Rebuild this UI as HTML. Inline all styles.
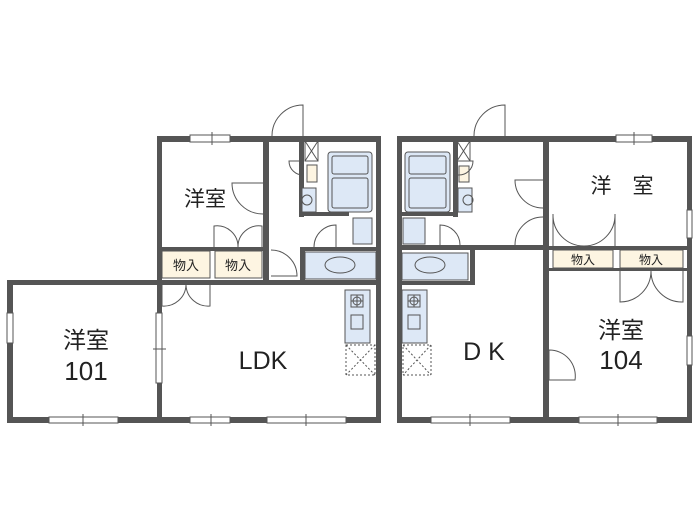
<!DOCTYPE html>
<html><head><meta charset="utf-8"><style>body{margin:0;background:#fff}svg{display:block}</style></head><body>
<svg width="700" height="532" viewBox="0 0 700 532" xmlns="http://www.w3.org/2000/svg" font-family="Liberation Sans, Noto Sans CJK JP, sans-serif">
<g fill="#555">
<rect x="157" y="136" width="224" height="6"/>
<rect x="157" y="136" width="5" height="150"/>
<rect x="376" y="136" width="5" height="287"/>
<rect x="263" y="142" width="6" height="140"/>
<rect x="157" y="247" width="112" height="4"/>
<rect x="7" y="280" width="374" height="5"/>
<rect x="7" y="280" width="6" height="143"/>
<rect x="157" y="280" width="5" height="143"/>
<rect x="7" y="417" width="374" height="6"/>
<rect x="299" y="142" width="5" height="75"/>
<rect x="299" y="212" width="50" height="4"/>
<rect x="300" y="247" width="81" height="4"/>
<rect x="300" y="247" width="5" height="38"/>
<rect x="397" y="136" width="295" height="6"/>
<rect x="397" y="136" width="5" height="287"/>
<rect x="687" y="136" width="5" height="287"/>
<rect x="543" y="142" width="6" height="281"/>
<rect x="397" y="245" width="152" height="5"/>
<rect x="549" y="246" width="143" height="4"/>
<rect x="549" y="268" width="138" height="3"/>
<rect x="397" y="281" width="78" height="4"/>
<rect x="470" y="250" width="5" height="35"/>
<rect x="453" y="142" width="5" height="75"/>
<rect x="400" y="212" width="58" height="4"/>
<rect x="397" y="417" width="295" height="6"/>
</g>
<g fill="#fff" stroke="#555" stroke-width="1">
<rect x="190" y="135" width="40" height="7"/>
<rect x="616" y="135" width="36" height="7"/>
<rect x="49" y="417" width="69" height="6"/>
<rect x="190" y="417" width="40" height="6"/>
<rect x="267" y="417" width="79" height="6"/>
<rect x="431" y="417" width="79" height="6"/>
<rect x="579" y="417" width="78" height="6"/>
<rect x="7" y="313" width="6" height="30"/>
<rect x="156" y="313" width="6" height="70"/>
<rect x="687" y="210" width="5" height="28"/>
<rect x="687" y="336" width="5" height="29"/>
</g>
<g stroke="#555" stroke-width="1">
<line x1="212" y1="132" x2="212" y2="145"/><line x1="634" y1="132" x2="634" y2="145"/>
<line x1="83" y1="414" x2="83" y2="426"/><line x1="211" y1="414" x2="211" y2="426"/><line x1="306" y1="414" x2="306" y2="426"/>
<line x1="470" y1="414" x2="470" y2="426"/><line x1="618" y1="414" x2="618" y2="426"/>
<line x1="153" y1="349" x2="166" y2="349"/>
</g>
<g fill="#fdf5e2" stroke="#555" stroke-width="1">
<rect x="162" y="251" width="48" height="27"/><rect x="215" y="251" width="47" height="27"/>
<rect x="553" y="250" width="60" height="18"/><rect x="620" y="250" width="63" height="18"/>
<rect x="307" y="165" width="10" height="17"/><rect x="459" y="166" width="10" height="16"/>
</g>
<g font-size="13" fill="#222" text-anchor="middle">
<text x="186" y="270">物入</text><text x="238" y="270">物入</text>
<text x="583" y="264" font-size="12">物入</text><text x="651" y="264" font-size="12">物入</text>
</g>
<g fill="#dde8f6" stroke="#555" stroke-width="1">
<rect x="328" y="152" width="44" height="60" rx="3"/><rect x="332" y="156" width="36" height="18" rx="2"/><rect x="332" y="178" width="36" height="30" rx="2"/>
<rect x="305" y="252" width="71" height="27"/><ellipse cx="340" cy="265" rx="15" ry="8"/>
<rect x="353" y="218" width="19" height="26"/>
<rect x="302" y="188" width="14" height="24"/>
<rect x="405" y="152" width="45" height="60" rx="3"/><rect x="409" y="156" width="37" height="18" rx="2"/><rect x="409" y="178" width="37" height="30" rx="2"/>
<rect x="402" y="253" width="66" height="27"/><ellipse cx="430" cy="265" rx="15" ry="8"/>
<rect x="403" y="218" width="22" height="26"/>
<rect x="458" y="188" width="14" height="24"/>
<rect x="345" y="290" width="25" height="53"/><rect x="402" y="290" width="25" height="53"/>
</g>
<g fill="none" stroke="#555" stroke-width="1">
<circle cx="307" cy="200" r="5"/><circle cx="468" cy="200" r="5"/>
<rect x="305" y="141" width="13" height="20"/><path d="M305 141L318 161M318 141L305 161"/>
<rect x="457" y="141" width="13" height="20"/><path d="M457 141L470 161M470 141L457 161"/>
<rect x="351" y="295" width="12" height="12"/><circle cx="357" cy="301" r="4"/><path d="M351 301h12M357 295v12"/>
<rect x="351" y="315" width="12" height="14" fill="#dde8f6"/>
<rect x="408" y="295" width="12" height="12"/><circle cx="414" cy="301" r="4"/><path d="M408 301h12M414 295v12"/>
<rect x="408" y="315" width="12" height="14" fill="#dde8f6"/>
<g stroke-dasharray="2,2"><rect x="346" y="345" width="29" height="30"/><path d="M346 345L375 375M375 345L346 375"/>
<rect x="403" y="345" width="28" height="30"/><path d="M403 345L431 375M431 345L403 375"/></g>
<path d="M303 137V105A31 31 0 0 0 272 137"/>
<path d="M505 137V105A31 31 0 0 0 474 137"/>
<path d="M263 183H232A31 31 0 0 0 263 214"/>
<path d="M214 247V226A21 21 0 0 1 238 247M262 247V226A21 21 0 0 0 238 247"/>
<path d="M162 285V306A22 22 0 0 0 186 285M210 285V306A22 22 0 0 1 186 285"/>
<path d="M271 250A26 26 0 0 1 297 276H271"/>
<path d="M314 247A22 22 0 0 1 336 225V247"/>
<path d="M304 161H289A14 14 0 0 0 304 175"/>
<path d="M458 161H473A14 14 0 0 1 458 175"/>
<path d="M543 180H515A28 28 0 0 0 543 208"/>
<path d="M515 245A28 28 0 0 1 543 217"/>
<path d="M440 245V225A20 20 0 0 1 460 245"/>
<path d="M553 246V214A31 31 0 0 0 584 246M615 246V214A31 31 0 0 1 584 246"/>
<path d="M620 271V302A31 31 0 0 0 651 271M683 271V302A31 31 0 0 1 651 271"/>
<path d="M549 350V380H575A26 26 0 0 0 549 350"/>
</g>
<g fill="#222" text-anchor="middle">
<text x="205" y="206" font-size="21">洋室</text>
<text x="622" y="193" font-size="21">洋　室</text>
<text x="86" y="348" font-size="23">洋室</text>
<text x="86" y="380" font-size="26">101</text>
<text x="263" y="369" font-size="25">LDK</text>
<text x="484" y="360" font-size="25">D K</text>
<text x="621" y="338" font-size="23">洋室</text>
<text x="621" y="369" font-size="26">104</text>
</g>
</svg>
</body></html>
